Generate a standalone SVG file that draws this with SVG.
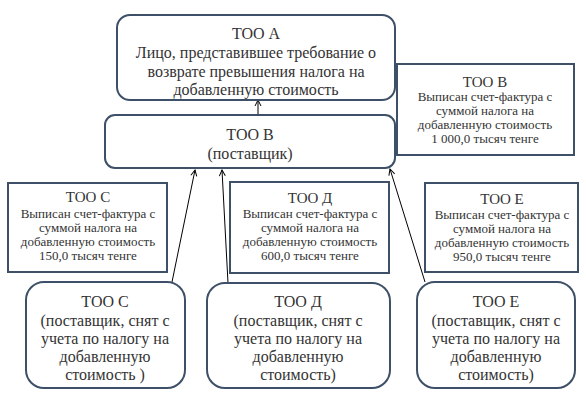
<svg xmlns="http://www.w3.org/2000/svg" width="586" height="401" viewBox="0 0 586 401" xml:lang="ru" lang="ru">
<defs>
<style>
.rb{fill:#fff;stroke:#3e5068;stroke-width:2}
.sb{fill:#fff;stroke:#3e5068;stroke-width:2}
.c{fill:none;stroke:#000;stroke-width:1}
</style>
<marker id="ah" markerWidth="8" markerHeight="8" refX="7" refY="4" orient="auto" markerUnits="userSpaceOnUse">
<path d="M1,1 L7,4 L1,7" fill="none" stroke="#000" stroke-width="1"/>
</marker>
</defs>
<rect width="586" height="401" fill="#fff"/>
<g id="connectors">
<line class="c" x1="258" y1="115" x2="258" y2="100" marker-end="url(#ah)"/>
<line class="c" x1="172" y1="282" x2="195" y2="170" marker-end="url(#ah)"/>
<line class="c" x1="228" y1="283" x2="222" y2="170" marker-end="url(#ah)"/>
<line class="c" x1="425" y1="282" x2="390" y2="169" marker-end="url(#ah)"/>
</g>
<g fill="#333" text-anchor="middle" font-family="Liberation Serif, Times New Roman, serif">
<g id="tooA" font-size="16">
<rect class="rb" x="117" y="15" width="278" height="85" rx="13"/>
<text x="256" y="39">ТОО А</text>
<text x="256" y="58">Лицо, представившее требование о</text>
<text x="256" y="77">возврате превышения налога на</text>
<text x="256" y="95">добавленную стоимость</text>
</g>
<g id="tooB" font-size="16">
<rect class="rb" x="105" y="115" width="290" height="53" rx="10"/>
<text x="250" y="140">ТОО В</text>
<text x="250" y="159">(поставщик)</text>
</g>
<g id="tooB-invoice" font-size="13">
<rect class="sb" x="397" y="64" width="177" height="91"/>
<text x="485" y="87" font-size="15">ТОО В</text>
<text x="485" y="101">Выписан счет-фактура с</text>
<text x="485" y="115">суммой налога на</text>
<text x="485" y="129">добавленную стоимость</text>
<text x="485" y="143">1 000,0 тысяч тенге</text>
</g>
<g id="tooC-invoice" font-size="13">
<rect class="sb" x="8" y="183" width="159" height="89"/>
<text x="88" y="202" font-size="15">ТОО С</text>
<text x="88" y="218">Выписан счет-фактура с</text>
<text x="88" y="232">суммой налога на</text>
<text x="88" y="246">добавленную стоимость</text>
<text x="88" y="260">150,0 тысяч тенге</text>
</g>
<g id="tooD-invoice" font-size="13">
<rect class="sb" x="230" y="182" width="159" height="91"/>
<text x="310" y="203" font-size="15">ТОО Д</text>
<text x="310" y="218">Выписан счет-фактура с</text>
<text x="310" y="232">суммой налога на</text>
<text x="310" y="246">добавленную стоимость</text>
<text x="310" y="260">600,0 тысяч тенге</text>
</g>
<g id="tooE-invoice" font-size="13">
<rect class="sb" x="425" y="183" width="153" height="89"/>
<text x="502" y="204" font-size="15">ТОО Е</text>
<text x="502" y="219">Выписан счет-фактура с</text>
<text x="502" y="233">суммой налога на</text>
<text x="502" y="247">добавленную стоимость</text>
<text x="502" y="261">950,0 тысяч тенге</text>
</g>
<g id="tooC" font-size="16">
<rect class="rb" x="26" y="282" width="159" height="106" rx="18"/>
<text x="105" y="307">ТОО С</text>
<text x="105" y="326">(поставщик, снят с</text>
<text x="105" y="344">учета по налогу на</text>
<text x="105" y="362">добавленную</text>
<text x="105" y="380">стоимость )</text>
</g>
<g id="tooD" font-size="16">
<rect class="rb" x="207" y="283" width="183" height="105" rx="18"/>
<text x="298" y="307">ТОО Д</text>
<text x="298" y="326">(поставщик, снят с</text>
<text x="298" y="344">учета по налогу на</text>
<text x="298" y="362">добавленную</text>
<text x="298" y="380">стоимость)</text>
</g>
<g id="tooE" font-size="16">
<rect class="rb" x="417" y="282" width="158" height="106" rx="18"/>
<text x="496" y="307">ТОО Е</text>
<text x="496" y="326">(поставщик, снят с</text>
<text x="496" y="344">учета по налогу на</text>
<text x="496" y="362">добавленную</text>
<text x="496" y="380">стоимость)</text>
</g>
</g>
</svg>
